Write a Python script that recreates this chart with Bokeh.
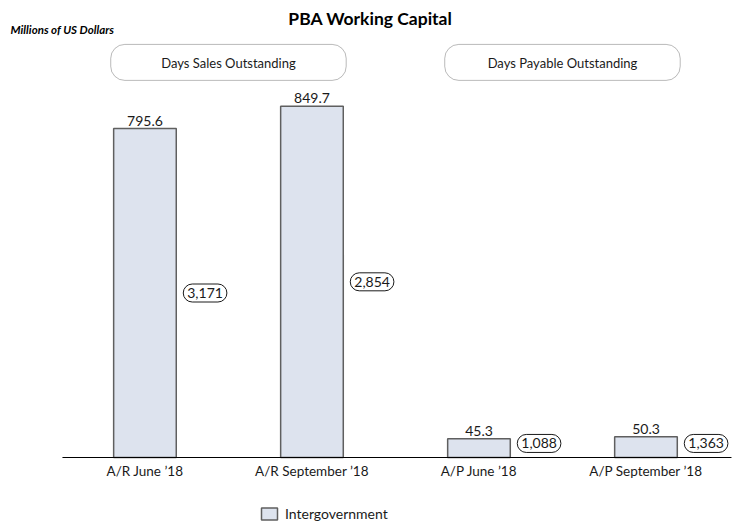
from bokeh.plotting import figure
from bokeh.models import Range1d, Label, BoxAnnotation, Legend, LegendItem, ColumnDataSource
from bokeh.core.properties import value
from bokeh.embed import file_html
from bokeh.resources import INLINE

# ---- data ----
categories = ["A/R June \u201918", "A/R September \u201918", "A/P June \u201918", "A/P September \u201918"]
intergovernment = [795.6, 849.7, 45.3, 50.3]
day_labels = ["3,171", "2,854", "1,088", "1,363"]
group_titles = ["Days Sales Outstanding", "Days Payable Outstanding"]
series_name = "Intergovernment"
title_text = "PBA Working Capital"
unit_text = "Millions of US Dollars"

FONT = "Lato"
TXT = "#1a1a1a"

xs = list(range(len(categories)))
src = ColumnDataSource(dict(x=xs, top=intergovernment, cat=categories, zero=[0] * len(xs),
                            lbl=["%.1f" % v for v in intergovernment]))

# the frame fills the whole canvas; the category axis is drawn at y = 0
p = figure(width=740, height=523,
           x_range=Range1d(-0.865, 3.566), y_range=Range1d(-159.6, 1105.2),
           output_backend="svg", toolbar_location=None,
           min_border_left=0, min_border_right=0, min_border_top=0, min_border_bottom=0)
p.outline_line_color = None
p.grid.visible = False
p.xaxis.visible = False
p.yaxis.visible = False
p.background_fill_color = "white"

bars = p.vbar(x="x", top="top", width=0.375, source=src,
              fill_color="#dde3ee", line_color="#5f5f5f", line_width=1.5)

# category axis line and labels
p.segment(x0=-0.494, y0=0, x1=3.512, y1=0, line_color="#000000", line_width=1)
p.text(x="x", y="zero", text="cat", source=src, y_offset=13,
       text_align="center", text_baseline="middle",
       text_font=value(FONT), text_font_size="13.5px", text_color=TXT)

# value labels on top of bars
p.text(x="x", y="top", text="lbl", source=src, y_offset=-3,
       text_align="center", text_baseline="bottom",
       text_font=value(FONT), text_font_size="14px", text_color=TXT)

# day labels in rounded boxes
for i, (v, t) in enumerate(zip(intergovernment, day_labels)):
    p.add_layout(Label(x=i + 0.36, y=max(v / 2, 34), text=t,
                       text_align="center", text_baseline="middle",
                       text_font=FONT, text_font_size="14px", text_color=TXT,
                       background_fill_color="white", border_line_color="#1a1a1a",
                       border_line_width=1, padding=4, border_radius=10))

# group header boxes
for g, name in enumerate(group_titles):
    c = 0.5 + 2 * g
    p.add_layout(BoxAnnotation(left=c - 0.705, right=c + 0.705, bottom=912, top=999,
                               fill_color="white", fill_alpha=1.0,
                               line_color="#1a1a1a", line_width=1, border_radius=14))
    p.add_layout(Label(x=c, y=955, text=name, text_align="center", text_baseline="middle",
                       text_font=FONT, text_font_size="13px", text_color=TXT))

# title and units
p.add_layout(Label(x=1.35, y=1061, text=title_text, text_align="center", text_baseline="middle",
                   text_font=FONT, text_font_size="17.5px", text_font_style="bold", text_color="#000000"))
p.add_layout(Label(x=-0.805, y=1034, text=unit_text, text_align="left", text_baseline="middle",
                   text_font=FONT, text_font_size="11.5px", text_font_style="bold italic", text_color="#000000"))

legend = Legend(items=[LegendItem(label=series_name, renderers=[bars])],
                location=(259, 1), orientation="horizontal",
                padding=0, margin=0, border_line_color=None, background_fill_alpha=0,
                glyph_width=20, glyph_height=15, label_height=15, label_standoff=6,
                label_text_font=FONT, label_text_font_size="14px", label_text_color=TXT)
p.add_layout(legend, "center")

open("out.html", "w").write(file_html(p, INLINE))
